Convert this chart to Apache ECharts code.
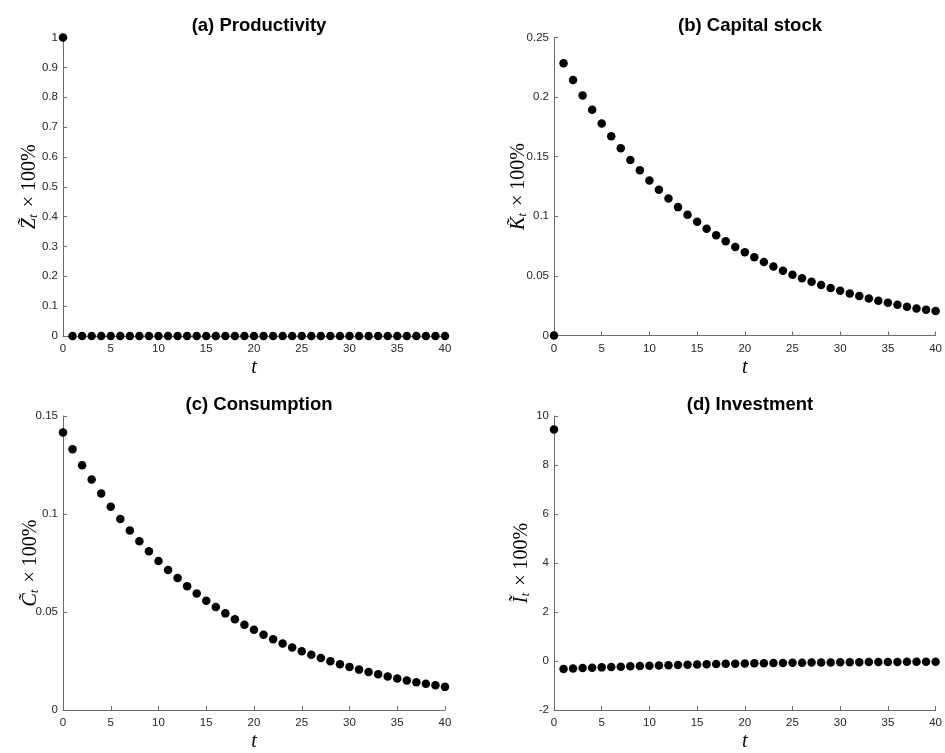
<!DOCTYPE html>
<html>
<head>
<meta charset="utf-8">
<script src="https://cdn.jsdelivr.net/npm/echarts@6/dist/echarts.min.js"></script>
<style>
  html, body { margin: 0; padding: 0; background: #fff; }
  #chart { width: 945px; height: 753px; }
</style>
</head>
<body>
<div id="chart"></div>
<script>
// Periods after the shock
const periods = [0, 1, 2, 3, 4, 5, 6, 7, 8, 9, 10, 11, 12, 13, 14, 15, 16, 17, 18, 19, 20,
  21, 22, 23, 24, 25, 26, 27, 28, 29, 30, 31, 32, 33, 34, 35, 36, 37, 38, 39, 40];

// Impulse responses (percent deviation from steady state)
const productivity = [1, 0, 0, 0, 0, 0, 0, 0, 0, 0, 0, 0, 0, 0, 0, 0, 0, 0, 0, 0, 0,
  0, 0, 0, 0, 0, 0, 0, 0, 0, 0, 0, 0, 0, 0, 0, 0, 0, 0, 0, 0];

const capital = [0, 0.2284, 0.2143, 0.2014, 0.1894, 0.1779, 0.1672, 0.1571, 0.1473, 0.1386,
  0.1301, 0.1223, 0.1150, 0.1077, 0.1013, 0.0954, 0.0895, 0.0842, 0.0791, 0.0743,
  0.0699, 0.0657, 0.0617, 0.0578, 0.0544, 0.0510, 0.0480, 0.0451, 0.0423, 0.0398,
  0.0375, 0.0353, 0.0331, 0.0311, 0.0291, 0.0274, 0.0258, 0.0241, 0.0227, 0.0216, 0.0205];

const consumption = [0.1416, 0.1330, 0.1249, 0.1176, 0.1105, 0.1037, 0.0975, 0.0916, 0.0861,
  0.0810, 0.0760, 0.0714, 0.0673, 0.0632, 0.0594, 0.0558, 0.0525, 0.0493, 0.0463,
  0.0435, 0.0409, 0.0384, 0.0361, 0.0339, 0.0319, 0.0300, 0.0282, 0.0265, 0.0249,
  0.0234, 0.0220, 0.0206, 0.0194, 0.0182, 0.0171, 0.0161, 0.0151, 0.0142, 0.0134,
  0.0126, 0.0118];

const investment = [9.45, -0.33, -0.31, -0.29, -0.275, -0.26, -0.245, -0.23, -0.215, -0.20,
  -0.19, -0.18, -0.17, -0.16, -0.15, -0.14, -0.13, -0.125, -0.115, -0.11, -0.10,
  -0.095, -0.09, -0.085, -0.08, -0.075, -0.07, -0.065, -0.06, -0.057, -0.053,
  -0.05, -0.047, -0.044, -0.041, -0.039, -0.036, -0.034, -0.032, -0.030, -0.028];

// Panel titles and y-axis symbols
const panelTitles = ['(a) Productivity', '(b) Capital stock', '(c) Consumption', '(d) Investment'];
const panelSymbols = ['Z', 'K', 'C', 'I'];

// Y-axis ranges: [min, max, interval]
const yRanges = [[0, 1, 0.1], [0, 0.25, 0.05], [0, 0.15, 0.05], [-2, 10, 2]];

const panelData = [productivity, capital, consumption, investment];

// Grid placement (pixels) and y-name offsets
const grids = [
  { left: 63, top: 37.5, width: 382, height: 298.5 },
  { left: 554, top: 37.5, width: 382, height: 298 },
  { left: 63, top: 416, width: 382, height: 297.5 },
  { left: 554, top: 416, width: 382, height: 297.5 }
];
const nameGaps = [23, 25, 22, 22];

const axisColor = '#6b6b6b';
const textColor = '#262626';
const sansFont = '"Liberation Sans", Arial, Helvetica, sans-serif';
const serifFont = '"Liberation Serif", "DejaVu Serif", serif';

const chart = echarts.init(document.getElementById('chart'), null, { renderer: 'canvas' });

const option = {
  backgroundColor: '#ffffff',
  animation: false,
  title: panelTitles.map((txt, i) => ({
    text: txt,
    left: grids[i].left + grids[i].width / 2,
    top: grids[i].top - 26,
    textAlign: 'center',
    textStyle: { fontFamily: sansFont, fontWeight: 'bold', fontSize: 18.5, color: '#000' }
  })),
  grid: grids.map(g => Object.assign({ containLabel: false }, g)),
  xAxis: grids.map((g, i) => ({
    type: 'value',
    gridIndex: i,
    min: 0,
    max: 40,
    interval: 5,
    name: 't',
    nameLocation: 'middle',
    nameGap: 22,
    nameMoveOverlap: false,
    nameTextStyle: { fontFamily: serifFont, fontStyle: 'italic', fontSize: 20, color: '#000' },
    axisLine: { show: true, onZero: false, lineStyle: { color: axisColor, width: 1 } },
    axisTick: { show: true, inside: true, length: 4, lineStyle: { color: axisColor } },
    axisLabel: { fontFamily: sansFont, fontSize: 11.5, color: textColor, margin: 7 },
    splitLine: { show: false }
  })),
  yAxis: grids.map((g, i) => ({
    type: 'value',
    gridIndex: i,
    min: yRanges[i][0],
    max: yRanges[i][1],
    interval: yRanges[i][2],
    name: '{m|' + panelSymbols[i] + '\u0303}{s|t}{r| \u00d7 100%}',
    nameLocation: 'middle',
    nameRotate: 90,
    nameGap: nameGaps[i],
    nameMoveOverlap: false,
    nameTextStyle: {
      color: '#000',
      rich: {
        m: { fontFamily: serifFont, fontStyle: 'italic', fontSize: 20, color: '#000', verticalAlign: 'middle' },
        s: { fontFamily: serifFont, fontStyle: 'italic', fontSize: 13.5, color: '#000', verticalAlign: 'bottom', padding: [0, 2, 0, 0] },
        r: { fontFamily: serifFont, fontSize: 20, color: '#000', verticalAlign: 'middle' }
      }
    },
    axisLine: { show: true, onZero: false, lineStyle: { color: axisColor, width: 1 } },
    axisTick: { show: true, inside: true, length: 4, lineStyle: { color: axisColor } },
    axisLabel: { fontFamily: sansFont, fontSize: 11.5, color: textColor, margin: 5 },
    splitLine: { show: false }
  })),
  series: panelData.map((vals, i) => ({
    type: 'scatter',
    xAxisIndex: i,
    yAxisIndex: i,
    symbol: 'circle',
    symbolSize: 8.5,
    clip: false,
    itemStyle: { color: '#000', opacity: 1 },
    data: periods.map((p, k) => [p, vals[k]])
  }))
};

chart.setOption(option);
</script>
</body>
</html>
